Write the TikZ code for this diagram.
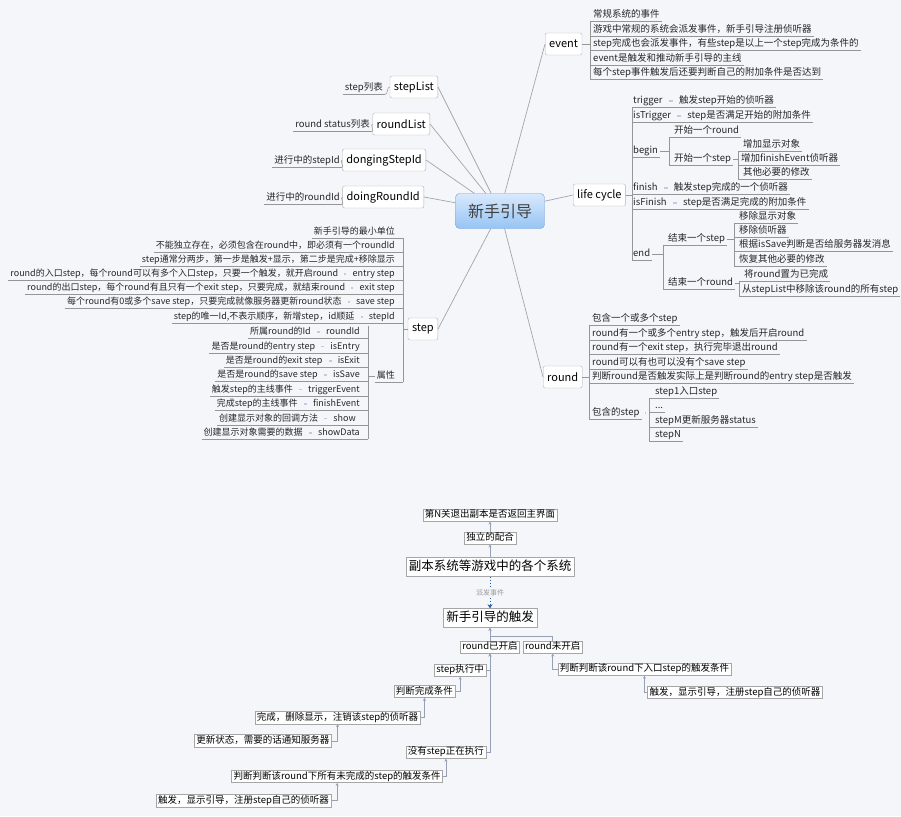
\documentclass[tikz,border=0pt]{standalone}
\usepackage{fontspec}
\setmainfont{Noto Sans CJK SC}
\usetikzlibrary{positioning,calc,arrows.meta}
\definecolor{bgcol}{RGB}{244,246,250}
\definecolor{linegray}{RGB}{160,165,175}
\definecolor{treegray}{RGB}{150,150,150}
\definecolor{dotblue}{RGB}{190,205,230}
\definecolor{roottop}{RGB}{216,233,252}
\definecolor{rootbot}{RGB}{150,196,244}
\definecolor{rootdraw}{RGB}{120,160,215}
\definecolor{flowgray}{RGB}{150,160,180}
\definecolor{dashblue}{RGB}{40,90,170}

\begin{document}
\begin{tikzpicture}[x=1pt, y=-1pt,
    root/.style={rectangle, rounded corners=4pt, draw=rootdraw, top color=roottop,
                 bottom color=rootbot, minimum width=89pt, minimum height=35pt,
                 font=\fontsize{16}{18}\selectfont, text=black!75},
    topic/.style={rectangle, rounded corners=2pt, draw=black!30, fill=white,
                  minimum height=22pt, inner xsep=4pt, font=\fontsize{11}{13}\selectfont},
    leaf/.style={inner xsep=2pt, inner ysep=1.5pt, text height=7.5pt, text depth=2pt,
                 text=black!85, font=\fontsize{9.5}{11}\selectfont},
    sleaf/.style={leaf, font=\fontsize{9}{11}\selectfont},
    tline/.style={draw=treegray, line width=0.5pt},
    bline/.style={draw=linegray, line width=0.7pt},
    dot/.style={draw=dotblue, line width=1.5pt, shorten <=4pt, shorten >=4pt},
    fbox/.style={rectangle, draw=black!35, fill=white, inner xsep=2pt, inner ysep=1.5pt,
                 text height=7.5pt, text depth=2pt, font=\fontsize{9.5}{11}\selectfont},
    fbig/.style={fbox, inner xsep=3pt, inner ysep=3pt, text height=10pt, text depth=3pt,
                 font=\fontsize{12.5}{14}\selectfont},
    fline/.style={draw=flowgray, line width=0.6pt, {Stealth[length=3pt,width=3pt]}-},
    farrow/.style={dotted, draw=dashblue, line width=1pt, -{Stealth[length=4pt,width=5pt]}}
  ]
  \useasboundingbox (0,0) rectangle (901,816);
  \fill[bgcol] (0,0) rectangle (901,816);

  % central topic and main branches
  \node[root] (root) at (500,211) {新手引导};
  \node[topic, anchor=west] (event) at (545,44) {event};
  \node[topic, anchor=west] (cycle) at (573,195) {life cycle};
  \node[topic, anchor=west] (round) at (543,377) {round};
  \node[topic, anchor=east] (stepList) at (438,87) {stepList};
  \node[topic, anchor=east] (roundList) at (430,124) {roundList};
  \node[topic, anchor=east] (doingStep) at (426,160) {dongingStepId};
  \node[topic, anchor=east] (doingRound) at (424,197) {doingRoundId};
  \node[topic, anchor=east] (step) at (438,329) {step};

  \draw[bline] (root) -- (event.west);
  \draw[bline] (root) -- (cycle.west);
  \draw[bline] (root) -- (round.west);
  \draw[bline] (root) -- (stepList.east);
  \draw[bline] (root) -- (roundList.east);
  \draw[bline] (root) -- (doingStep.east);
  \draw[bline] (root) -- (doingRound.east);
  \draw[bline] (root) -- (step.east);

  % left leaves
  \node[leaf, anchor=east] (stepListTxt) at (385,88) {step列表};
  \node[leaf, anchor=east] (roundListTxt) at (372,125) {round status列表};
  \node[leaf, anchor=east] (doingStepTxt) at (342,161) {进行中的stepId};
  \node[leaf, anchor=east] (doingRoundTxt) at (342,198) {进行中的roundId};
  \foreach \n/\p in {stepListTxt/stepList, roundListTxt/roundList,
                     doingStepTxt/doingStep, doingRoundTxt/doingRound} {
    \draw[tline] (\n.south west) -- (\n.south east);
    \draw[tline] (\n.south east) to[out=0, in=180] (\p.west);
  }

  % event
  \coordinate (evB) at (590,0);
  \node[leaf, anchor=west] (ev1) at (591,15) {常规系统的事件};
  \node[leaf, anchor=west] (ev2) at (591,29.5) {游戏中常规的系统会派发事件，新手引导注册侦听器};
  \node[leaf, anchor=west] (ev3) at (591,44) {step完成也会派发事件，有些step是以上一个step完成为条件的};
  \node[leaf, anchor=west] (ev4) at (591,58.5) {event是触发和推动新手引导的主线};
  \node[leaf, anchor=west] (ev5) at (591,73) {每个step事件触发后还要判断自己的附加条件是否达到};
  \foreach \n in {ev1,ev2,ev3,ev4,ev5}
    \draw[tline] (evB |- \n.south) -- (\n.south east);
  \draw[tline] (evB |- ev1.south) -- (evB |- ev5.south);
  \draw[tline] (event.east) -- (evB |- event.east);

  % life cycle
  \coordinate (lcB) at (632,0);
  \node[leaf, anchor=west] (lcTrigger) at (631,101) {trigger};
  \node[leaf, right=12pt of lcTrigger] (lcTriggerTxt) {触发step开始的侦听器};
  \node[leaf, anchor=west] (lcIsTrigger) at (631,116) {isTrigger};
  \node[leaf, right=12pt of lcIsTrigger] (lcIsTriggerTxt) {step是否满足开始的附加条件};
  \node[leaf, anchor=west] (lcBegin) at (631,151) {begin};
  \node[leaf, anchor=west] (lcFinish) at (631,188) {finish};
  \node[leaf, right=12pt of lcFinish] (lcFinishTxt) {触发step完成的一个侦听器};
  \node[leaf, anchor=west] (lcIsFinish) at (631,203) {isFinish};
  \node[leaf, right=12pt of lcIsFinish] (lcIsFinishTxt) {step是否满足完成的附加条件};
  \node[leaf, anchor=west] (lcEnd) at (631,254) {end};
  \foreach \n/\m in {lcTrigger/lcTriggerTxt, lcIsTrigger/lcIsTriggerTxt,
                     lcFinish/lcFinishTxt, lcIsFinish/lcIsFinishTxt} {
    \draw[tline] (lcB |- \n.south) -- (\m.south east);
    \draw[dot] (\n) -- (\m);
  }
  \draw[tline] (lcB |- lcBegin.south) -- (lcBegin.south east);
  \draw[tline] (lcB |- lcEnd.south) -- (lcEnd.south east);
  \draw[tline] (lcB |- lcTrigger.south) -- (lcB |- lcEnd.south);
  \draw[tline] (cycle.east) -- (lcB |- cycle.east);

  % begin
  \coordinate (bgB) at (669,0);
  \node[leaf, anchor=west] (bgRound) at (672,131) {开始一个round};
  \node[leaf, anchor=west] (bgStep) at (672,159) {开始一个step};
  \foreach \n in {bgRound,bgStep}
    \draw[tline] (bgB |- \n.south) -- (\n.south east);
  \draw[tline] (bgB |- bgRound.south) -- (bgB |- bgStep.south);
  \draw[tline] (lcBegin.east) -- (bgB |- lcBegin.east);
  \coordinate (bsB) at (738,0);
  \node[leaf, anchor=west] (bsShow) at (741,145) {增加显示对象};
  \node[leaf, anchor=west] (bsEvent) at (739,159) {增加finishEvent侦听器};
  \node[leaf, anchor=west] (bsOther) at (741,173) {其他必要的修改};
  \foreach \n in {bsShow,bsEvent,bsOther}
    \draw[tline] (bsB |- \n.south) -- (\n.south east);
  \draw[tline] (bsB |- bsShow.south) -- (bsB |- bsOther.south);
  \draw[tline] (bgStep.east) -- (bsB |- bgStep.east);

  % end
  \coordinate (edB) at (663,0);
  \node[leaf, anchor=west] (edStep) at (666,239) {结束一个step};
  \node[leaf, anchor=west] (edRound) at (666,283) {结束一个round};
  \foreach \n in {edStep,edRound}
    \draw[tline] (edB |- \n.south) -- (\n.south east);
  \draw[tline] (edB |- edStep.south) -- (edB |- edRound.south);
  \draw[tline] (lcEnd.east) -- (edB |- lcEnd.east);
  \coordinate (esB) at (734,0);
  \node[leaf, anchor=west] (esShow) at (737,217) {移除显示对象};
  \node[leaf, anchor=west] (esListen) at (737,231) {移除侦听器};
  \node[leaf, anchor=west] (esSave) at (737,245) {根据isSave判断是否给服务器发消息};
  \node[leaf, anchor=west] (esOther) at (737,260) {恢复其他必要的修改};
  \foreach \n in {esShow,esListen,esSave,esOther}
    \draw[tline] (esB |- \n.south) -- (\n.south east);
  \draw[tline] (esB |- esShow.south) -- (esB |- esOther.south);
  \draw[tline] (edStep.east) -- (esB |- edStep.east);
  \coordinate (erB) at (739,0);
  \node[leaf, anchor=west] (erDone) at (742,275) {将round置为已完成};
  \node[leaf, anchor=west] (erRemove) at (740,290) {从stepList中移除该round的所有step};
  \foreach \n in {erDone,erRemove}
    \draw[tline] (erB |- \n.south) -- (\n.south east);
  \draw[tline] (erB |- erDone.south) -- (erB |- erRemove.south);
  \draw[tline] (edRound.east) -- (erB |- edRound.east);

  % round
  \coordinate (rdB) at (589,0);
  \node[leaf, anchor=west] (rd1) at (590,319) {包含一个或多个step};
  \node[leaf, anchor=west] (rd2) at (590,333.5) {round有一个或多个entry step，触发后开启round};
  \node[leaf, anchor=west] (rd3) at (590,348) {round有一个exit step，执行完毕退出round};
  \node[leaf, anchor=west] (rd4) at (590,362.5) {round可以有也可以没有个save step};
  \node[leaf, anchor=west] (rd5) at (590,377) {判断round是否触发实际上是判断round的entry step是否触发};
  \node[leaf, anchor=west] (rdSteps) at (590,413) {包含的step};
  \foreach \n in {rd1,rd2,rd3,rd4,rd5,rdSteps}
    \draw[tline] (rdB |- \n.south) -- (\n.south east);
  \draw[tline] (rdB |- rd1.south) -- (rdB |- rdSteps.south);
  \draw[tline] (round.east) -- (rdB |- round.east);
  \coordinate (rsB) at (649,0);
  \node[leaf, anchor=west] (rs1) at (653,392) {step1入口step};
  \node[leaf, anchor=west] (rs2) at (653,406) {...};
  \node[leaf, anchor=west] (rs3) at (653,421) {stepM更新服务器status};
  \node[leaf, anchor=west] (rs4) at (653,435) {stepN};
  \foreach \n in {rs1,rs2,rs3,rs4}
    \draw[tline] (rsB |- \n.south) -- (\n.south east);
  \draw[tline] (rsB |- rs1.south) -- (rsB |- rs4.south);
  \draw[dot] (rdSteps.east) -- (rsB |- rdSteps.east);

  % step
  \coordinate (stB) at (403,0);
  \node[sleaf, anchor=east] (stUnit) at (397,232) {新手引导的最小单位};
  \node[sleaf, anchor=east] (stRound) at (397,246) {不能独立存在，必须包含在round中，即必须有一个roundId};
  \node[sleaf, anchor=east] (stTwo) at (397,260) {step通常分两步，第一步是触发+显示，第二步是完成+移除显示};
  \node[sleaf, anchor=east] (stEntry) at (397,274) {entry step};
  \node[sleaf, left=10pt of stEntry] (stEntryTxt) {round的入口step，每个round可以有多个入口step，只要一个触发，就开启round};
  \node[sleaf, anchor=east] (stExit) at (397,288) {exit step};
  \node[sleaf, left=10pt of stExit] (stExitTxt) {round的出口step，每个round有且只有一个exit step，只要完成，就结束round};
  \node[sleaf, anchor=east] (stSave) at (397,302) {save step};
  \node[sleaf, left=10pt of stSave] (stSaveTxt) {每个round有0或多个save step，只要完成就像服务器更新round状态};
  \node[sleaf, anchor=east] (stId) at (397,317) {stepId};
  \node[sleaf, left=10pt of stId] (stIdTxt) {step的唯一Id,不表示顺序，新增step，id顺延};
  \node[sleaf, anchor=east] (stAttr) at (397,376) {属性};
  \foreach \n in {stUnit,stRound,stTwo,stAttr}
    \draw[tline] (\n.south west) -- (stB |- \n.south);
  \foreach \n/\m in {stEntry/stEntryTxt, stExit/stExitTxt, stSave/stSaveTxt, stId/stIdTxt} {
    \draw[tline] (\m.south west) -- (stB |- \n.south);
    \draw[dot] (\n) -- (\m);
  }
  \draw[tline] (stB |- stUnit.south) -- (stB |- stAttr.south);
  \draw[tline] (step.west) -- (stB |- step.west);

  % step attributes
  \coordinate (atB) at (368,0);
  \node[sleaf, anchor=east] (atRound) at (362,332) {roundId};
  \node[sleaf, left=11pt of atRound] (atRoundTxt) {所属round的Id};
  \node[sleaf, anchor=east] (atEntry) at (362,346.5) {isEntry};
  \node[sleaf, left=11pt of atEntry] (atEntryTxt) {是否是round的entry step};
  \node[sleaf, anchor=east] (atExit) at (362,361) {isExit};
  \node[sleaf, left=11pt of atExit] (atExitTxt) {是否是round的exit step};
  \node[sleaf, anchor=east] (atSave) at (362,375) {isSave};
  \node[sleaf, left=11pt of atSave] (atSaveTxt) {是否是round的save step};
  \node[sleaf, anchor=east] (atTrigger) at (362,389.5) {triggerEvent};
  \node[sleaf, left=11pt of atTrigger] (atTriggerTxt) {触发step的主线事件};
  \node[sleaf, anchor=east] (atFinish) at (362,404) {finishEvent};
  \node[sleaf, left=11pt of atFinish] (atFinishTxt) {完成step的主线事件};
  \node[sleaf, anchor=east] (atShow) at (358,418.5) {show};
  \node[sleaf, left=11pt of atShow] (atShowTxt) {创建显示对象的回调方法};
  \node[sleaf, anchor=east] (atData) at (362,433) {showData};
  \node[sleaf, left=11pt of atData] (atDataTxt) {创建显示对象需要的数据};
  \foreach \n/\m in {atRound/atRoundTxt, atEntry/atEntryTxt, atExit/atExitTxt,
                     atSave/atSaveTxt, atTrigger/atTriggerTxt, atFinish/atFinishTxt,
                     atShow/atShowTxt, atData/atDataTxt} {
    \draw[tline] (\m.south west) -- (atB |- \n.south);
    \draw[dot] (\n) -- (\m);
  }
  \draw[tline] (atB |- atRound.north) -- (atB |- atData.south);
  \draw[tline] (stAttr.west) -- (atB |- stAttr.west);

  % trigger flow
  \node[fbox] (exitMap) at (490,515) {第N关退出副本是否返回主界面};
  \node[fbox] (alone) at (490,538) {独立的配合};
  \node[fbig] (systems) at (490,567) {副本系统等游戏中的各个系统};
  \node[fbig] (trigger) at (490,618) {新手引导的触发};
  \node[fbox] (opened) at (490,647) {round已开启};
  \node[fbox, anchor=west] (closed) at ($(opened.east)+(3,0)$) {round未开启};
  \node[fbox, anchor=east] (running) at ($(opened.south)+(-4,16.75)$) {step执行中};
  \node[fbox, anchor=east] (checkDone) at ($(running.south)+(-5,14.75)$) {判断完成条件};
  \node[fbox, anchor=east] (done) at ($(checkDone.south)+(-4,19.75)$) {完成，删除显示，注销该step的侦听器};
  \node[fbox, anchor=east] (update) at ($(done.south)+(-6,16.75)$) {更新状态，需要的话通知服务器};
  \node[fbox, anchor=east] (idle) at ($(opened.south)+(-4,98.75)$) {没有step正在执行};
  \node[fbox, anchor=east] (checkAll) at ($(idle.south)+(-3,17.75)$) {判断判断该round下所有未完成的step的触发条件};
  \node[fbox, anchor=east] (fireAll) at ($(checkAll.south)+(-6,17.75)$) {触发，显示引导，注册step自己的侦听器};
  \node[fbox, anchor=west] (checkEntry) at ($(closed.south)+(5,15.75)$) {判断判断该round下入口step的触发条件};
  \node[fbox, anchor=west] (fireEntry) at ($(checkEntry.south)+(3,16.75)$) {触发，显示引导，注册step自己的侦听器};

  \draw[fline] (exitMap.south) -- (alone.north);
  \draw[fline] (alone.south) -- (systems.north);
  \draw[farrow] (systems.south) -- (trigger.north)
    node[midway, fill=bgcol, inner sep=1pt, text=black!40, font=\fontsize{7}{8}\selectfont] {派发事件};
  \draw[fline] (trigger.south) -- (opened.north);
  \draw[fline] (trigger.south) |- ($(closed.north)+(0,-4)$) -- (closed.north);
  \draw[fline] (opened.south) |- (running.east);
  \draw[fline] (opened.south) |- (idle.east);
  \draw[fline] (running.south) |- (checkDone.east);
  \draw[fline] (checkDone.south) |- (done.east);
  \draw[fline] (done.south) |- (update.east);
  \draw[fline] (idle.south) |- (checkAll.east);
  \draw[fline] (checkAll.south) |- (fireAll.east);
  \draw[fline] (closed.south) |- (checkEntry.west);
  \draw[fline] (checkEntry.south) |- (fireEntry.west);
\end{tikzpicture}
\end{document}
